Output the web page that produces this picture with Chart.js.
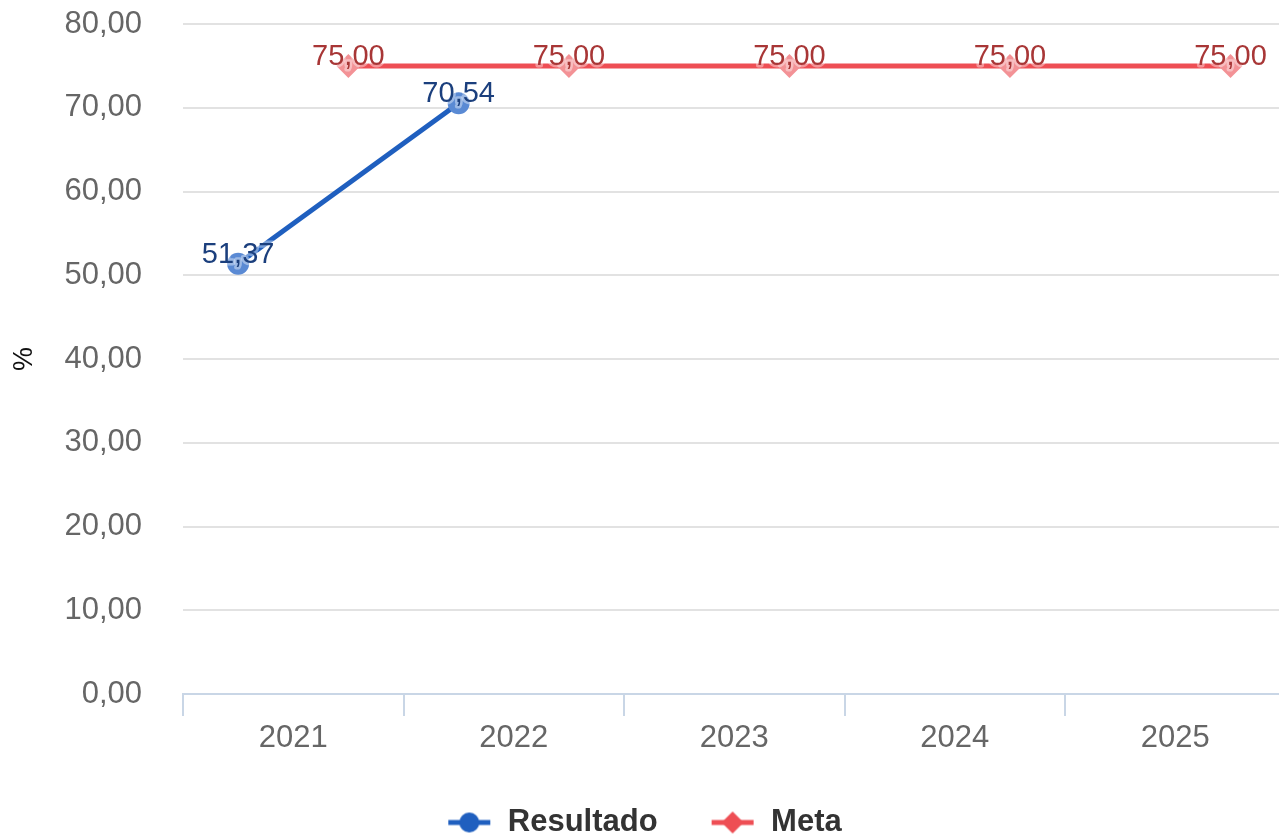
<!DOCTYPE html>
<html>
<head>
<meta charset="utf-8">
<script src="https://cdn.jsdelivr.net/npm/chart.js@4"></script>
<style>
  html, body { margin: 0; padding: 0; background: #fff; }
  #wrap { width: 1279px; height: 835px; }
</style>
</head>
<body>
<div id="wrap"><canvas id="chart" width="1279" height="835"></canvas></div>
<script>
  const years = ['2021', '2022', '2023', '2024', '2025'];
  const resultado = [51.37, 70.54, null, null, null];
  const meta = [75, 75, 75, 75, 75];
  const yTicks = [0, 10, 20, 30, 40, 50, 60, 70, 80];

  // each series sits at a fixed spot inside its year band
  const OFFSET_RES = 0.25;
  const OFFSET_META = 0.75;

  const FONT = '"Liberation Sans", Arial, sans-serif';
  const ICON_GAP = 11;

  function fmt(v) {
    return v.toFixed(2).replace('.', ',');
  }

  function toPoints(values, off) {
    const out = [];
    values.forEach(function (v, i) {
      if (v != null) out.push({ x: i + off, y: v });
    });
    return out;
  }

  // legend symbols: short line with the marker in the middle
  function legendIcon(color, shape) {
    const c = document.createElement('canvas');
    c.width = 44 + ICON_GAP;
    c.height = 24;
    const g = c.getContext('2d');
    const x0 = ICON_GAP;
    g.strokeStyle = color;
    g.lineWidth = 5;
    g.beginPath();
    g.moveTo(x0, 12);
    g.lineTo(x0 + 42, 12);
    g.stroke();
    g.fillStyle = color;
    g.beginPath();
    if (shape === 'circle') {
      g.arc(x0 + 21, 12, 10, 0, Math.PI * 2);
    } else {
      g.moveTo(x0 + 21, 1);
      g.lineTo(x0 + 32, 12);
      g.lineTo(x0 + 21, 23);
      g.lineTo(x0 + 10, 12);
      g.closePath();
    }
    g.fill();
    return c;
  }

  const labelPlugin = {
    id: 'valueLabels',
    afterDatasetsDraw: function (chart) {
      const ctx = chart.ctx;
      ctx.save();
      ctx.font = '29px ' + FONT;
      ctx.textAlign = 'center';
      ctx.textBaseline = 'alphabetic';
      ctx.lineJoin = 'round';
      chart.data.datasets.forEach(function (ds, di) {
        const metaInfo = chart.getDatasetMeta(di);
        metaInfo.data.forEach(function (el, i) {
          const txt = fmt(ds.data[i].y);
          ctx.strokeStyle = 'rgba(255,255,255,0.4)';
          ctx.lineWidth = 5;
          ctx.strokeText(txt, el.x, el.y - 1);
          ctx.fillStyle = ds.labelColor;
          ctx.fillText(txt, el.x, el.y - 1);
        });
      });
      ctx.restore();
    },
  };

  new Chart(document.getElementById('chart'), {
    type: 'line',
    data: {
      datasets: [
        {
          label: 'Resultado',
          data: toPoints(resultado, OFFSET_RES),
          borderColor: '#1f5fbf',
          borderWidth: 5,
          backgroundColor: '#5a8ad4',
          pointBackgroundColor: '#5a8ad4',
          pointBorderWidth: 0,
          pointRadius: 11,
          pointStyle: 'circle',
          labelColor: '#1b3f7d',
          legendIcon: legendIcon('#1f5fbf', 'circle'),
        },
        {
          label: 'Meta',
          data: toPoints(meta, OFFSET_META),
          borderColor: '#ee4e54',
          borderWidth: 5,
          backgroundColor: '#f39296',
          pointBackgroundColor: '#f39296',
          pointBorderWidth: 0,
          pointRadius: 12,
          pointStyle: 'rectRot',
          labelColor: '#a83636',
          legendIcon: legendIcon('#ee4e54', 'diamond'),
        },
      ],
    },
    options: {
      responsive: false,
      animation: false,
      layout: { autoPadding: false, padding: { top: 24, right: 0, bottom: 0, left: 0 } },
      scales: {
        x: {
          type: 'linear',
          min: 0,
          max: 4.97,
          afterBuildTicks: function (s) {
            const t = [];
            for (let i = 0; i < years.length; i++) {
              t.push({ value: i });
              t.push({ value: i + 0.5 });
            }
            s.ticks = t;
          },
          afterFit: function (s) {
            s.height = 70;
          },
          ticks: {
            autoSkip: false,
            maxRotation: 0,
            padding: 4,
            color: '#666666',
            font: { family: FONT, size: 31 },
            callback: function (v) {
              return v % 1 === 0.5 ? years[Math.floor(v)] : '';
            },
          },
          grid: {
            drawOnChartArea: false,
            drawTicks: true,
            tickLength: 22,
            lineWidth: 2,
            color: function (c) {
              return c.tick && c.tick.value % 1 === 0 ? '#c9d6e6' : 'rgba(0,0,0,0)';
            },
          },
          border: { color: '#c9d6e6', width: 2 },
        },
        y: {
          min: 0,
          max: 80,
          afterBuildTicks: function (s) {
            s.ticks = yTicks.map(function (v) {
              return { value: v };
            });
          },
          afterFit: function (s) {
            s.width = 183;
          },
          title: {
            display: true,
            text: '%',
            color: '#111111',
            font: { family: FONT, size: 27 },
            padding: { top: 8, bottom: 0 },
          },
          ticks: {
            padding: 4,
            color: '#666666',
            font: { family: FONT, size: 31 },
            callback: function (v) {
              return fmt(v);
            },
          },
          grid: {
            drawTicks: true,
            tickLength: 37,
            tickColor: 'rgba(0,0,0,0)',
            lineWidth: 2,
            color: function (c) {
              return c.tick && c.tick.value === 0 ? 'rgba(0,0,0,0)' : '#e2e2e2';
            },
          },
          border: { display: false },
        },
      },
      plugins: {
        tooltip: { enabled: false },
        legend: {
          position: 'bottom',
          maxHeight: 71,
          labels: {
            usePointStyle: true,
            pointStyleWidth: 44 + ICON_GAP,
            padding: 43,
            color: '#333333',
            font: { family: FONT, size: 31, weight: 'bold' },
            generateLabels: function (chart) {
              return chart.data.datasets.map(function (ds, i) {
                return {
                  text: ds.label,
                  pointStyle: ds.legendIcon,
                  fillStyle: ds.borderColor,
                  strokeStyle: ds.borderColor,
                  lineWidth: 0,
                  hidden: false,
                  datasetIndex: i,
                  fontColor: '#333333',
                };
              });
            },
          },
        },
      },
    },
    plugins: [labelPlugin],
  });
</script>
</body>
</html>
